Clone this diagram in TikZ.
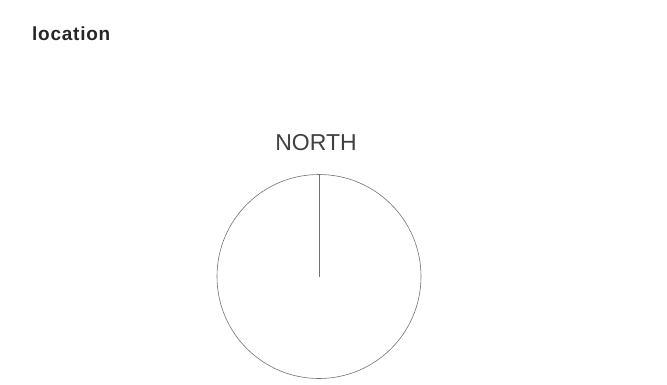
\documentclass[tikz,border=0pt]{standalone}
\usepackage{fontspec}
\setmainfont{Liberation Sans}
\begin{document}
\begin{tikzpicture}[x=1pt,y=-1pt,
  lbl/.style={inner sep=0pt,text=black!85},
  ring/.style={draw=black!55,line width=0.6pt}]
\useasboundingbox (0,0) rectangle (667,384);
\node[lbl,anchor=base west,font=\fontsize{19}{21}\selectfont\bfseries\addfontfeatures{LetterSpace=4}] (title) at (32,40.5) {location};
\node[lbl,anchor=base,font=\fontsize{23}{26}\selectfont,text=black!75] (north) at (316,150) {NORTH};
\coordinate (c) at (319,276.5);
\coordinate (top) at (319,174.5);
\draw[ring] (c) circle[radius=102];
\draw[ring] (top) -- (c);
\end{tikzpicture}
\end{document}
